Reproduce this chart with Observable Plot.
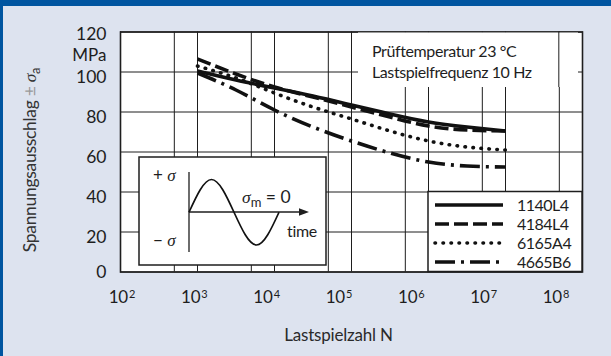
<!DOCTYPE html>
<html><head><meta charset="utf-8">
<script src="https://cdn.jsdelivr.net/npm/d3@7"></script>
<script src="https://cdn.jsdelivr.net/npm/@observablehq/plot@0.6"></script>
<style>
html,body{margin:0;padding:0;background:#dde3ef;}
body{width:611px;height:356px;overflow:hidden;}
#wrap{position:relative;width:611px;height:356px;background:#dde3ef;}
#wrap svg{position:absolute;left:0;top:0;overflow:visible;}
.bar-top{position:absolute;left:0;top:0;width:611px;height:6px;background:#0055a0;z-index:5}
.bar-left{position:absolute;left:0;top:0;width:3px;height:356px;background:#0055a0;z-index:5}
</style></head><body>
<div id="wrap"><div class="bar-top"></div><div class="bar-left"></div></div>
<script>
// ---- data ----
const cycles = [1e3, 3.16e3, 1e4, 3.16e4, 1e5, 3.16e5, 1e6, 3.16e6, 1e7];
const seriesNames = ["1140L4", "4184L4", "6165A4", "4665B6"];
const v1140L4 = [100.5, 96, 92, 88, 83.5, 79, 75, 72.5, 70.5];
const v4184L4 = [106.5, 99, 92.5, 87.5, 82.5, 77.5, 73, 71, 70.5];
const v6165A4 = [103, 97, 89.5, 82.5, 76.5, 70.5, 65.5, 62.5, 61];
const v4665B6 = [99.5, 91, 81, 72.5, 65.5, 59.5, 55, 53, 52.5];
const seriesValues = [v1140L4, v4184L4, v6165A4, v4665B6];
const yTicks = [0, 20, 40, 60, 80, 100, 120];
const xGridTicks = [1e2, 5e2, 1e3, 5e3, 1e4, 5e4, 1e5, 5e5, 1e6, 5e6, 1e7, 5e7, 1e8];
const xLabelExponents = [2, 3, 4, 5, 6, 7, 8];
const infoLines = ["Prüftemperatur 23 °C", "Lastspielfrequenz 10 Hz"];
const xTitle = "Lastspielzahl N";
const yUnit = "MPa";

// ---- styles ----
const FONT = 'Lato,"Liberation Sans",Arial,sans-serif';
const SERIF = '"Liberation Serif","DejaVu Serif",serif';
const INK = "#1e1e1e";
const dashes = {
  "1140L4": {dash: null, cap: "butt"},
  "4184L4": {dash: "14,5", cap: "butt"},
  "6165A4": {dash: "0.5,7.5", cap: "round"},
  "4665B6": {dash: "20,6,3,6", cap: "butt"}
};

const rows = seriesNames.flatMap((s, i) => cycles.map((n, j) => ({series: s, N: n, sigma: seriesValues[i][j]})));

const W = 611, H = 356;
const main = Plot.plot({
  width: W, height: H,
  marginLeft: 120, marginRight: 29, marginTop: 31.5, marginBottom: 84.5,
  style: {background: "transparent", fontFamily: FONT, fontSize: "17px", color: INK, overflow: "visible"},
  x: {type: "log", domain: [1e2, 1e8], axis: null, label: null},
  y: {domain: [0, 120], label: null},
  marks: [
    Plot.frame({fill: "white", stroke: null}),
    Plot.ruleX(xGridTicks, {stroke: INK, strokeWidth: 1}),
    Plot.ruleY(yTicks, {stroke: INK, strokeWidth: 1}),
    ...seriesNames.map(s => Plot.line(rows.filter(r => r.series === s), {
      x: "N", y: "sigma", curve: "natural", stroke: "#111", strokeWidth: 3.6,
      strokeDasharray: dashes[s].dash, strokeLinecap: dashes[s].cap
    })),
    Plot.frame({stroke: INK, strokeWidth: 1.6}),
    Plot.axisY([20, 40, 60, 80, 100], {tickSize: 0, tickPadding: 14, dy: 5.5, fontSize: 17.5, label: null, fill: INK}),
    Plot.axisY([0], {tickSize: 0, tickPadding: 14, dy: 0, fontSize: 17.5, label: null, fill: INK}),
    Plot.axisY([120], {tickSize: 0, tickPadding: 14, dy: 2, fontSize: 17.5, label: null, fill: INK}),
    Plot.text([yUnit], {frameAnchor: "top-left", text: d => d, textAnchor: "end", lineAnchor: "middle", dx: -14, dy: 23.5, fontSize: 17, fill: INK})
  ]
});
document.getElementById("wrap").appendChild(main);

// tick-label row & x title (label row is set slightly narrower than the grid, as in the source)
const labels = Plot.plot({
  width: W, height: H,
  marginLeft: 121, marginRight: 56, marginTop: 31.5, marginBottom: 84.5,
  style: {background: "transparent", fontFamily: FONT, fontSize: "17px", color: INK, overflow: "visible"},
  x: {type: "log", domain: [1e2, 1e8], axis: null},
  y: {domain: [0, 1], axis: null},
  marks: [
    Plot.text(xLabelExponents, {x: e => 10 ** e, frameAnchor: "bottom", text: () => "10", textAnchor: "end", lineAnchor: "top", dx: 6.5, dy: 18.5, fontSize: 17, fill: INK}),
    Plot.text(xLabelExponents, {x: e => 10 ** e, frameAnchor: "bottom", text: e => String(e), textAnchor: "start", lineAnchor: "top", dx: 7.5, dy: 18.5, fontSize: 11, fill: INK}),
    Plot.text([xTitle], {frameAnchor: "bottom", text: d => d, lineAnchor: "middle", dy: 63.5, fontSize: 17, fill: "#2a2a2a"})
  ]
});
d3.select(labels).selectAll("text").style("letter-spacing", "-0.2px");
document.getElementById("wrap").appendChild(labels);

// ---- annotations drawn into the main svg ----
const svg = d3.select(main);
const xs = main.scale("x"), ys = main.scale("y");

// info box
const info = svg.append("g").attr("text-anchor", "start");
info.append("rect").attr("x", 358).attr("y", 32.5).attr("width", 220).attr("height", 54.5).attr("fill", "white");
info.append("line").attr("x1", xs.apply(5e7)).attr("x2", xs.apply(5e7)).attr("y1", 31.5).attr("y2", 87).attr("stroke", INK);
info.selectAll("text").data(infoLines).join("text")
  .attr("x", 372).attr("y", (d, i) => 57 + i * 21).attr("text-anchor", "start")
  .attr("font-family", FONT).attr("font-size", 16).attr("letter-spacing", "-0.4px").attr("fill", INK).text(d => d);

// legend
const lx0 = xs.apply(1e6), lx1 = xs.apply(1e8), ly0 = ys.apply(40), ly1 = ys.apply(0);
const leg = svg.append("g").attr("text-anchor", "start");
leg.append("rect").attr("x", lx0).attr("y", ly0).attr("width", lx1 - lx0).attr("height", ly1 - ly0)
  .attr("fill", "white").attr("stroke", INK).attr("stroke-width", 1.5);
seriesNames.forEach((s, i) => {
  const yy = ly0 + 13.5 + i * 19;
  leg.append("line").attr("x1", lx0 + 7).attr("x2", lx0 + 75).attr("y1", yy).attr("y2", yy)
    .attr("stroke", "#111").attr("stroke-width", 3.6)
    .attr("stroke-dasharray", dashes[s].dash).attr("stroke-linecap", dashes[s].cap);
  leg.append("text").attr("x", lx0 + 89).attr("y", yy).attr("dy", "0.35em").attr("text-anchor", "start")
    .attr("font-family", FONT).attr("font-size", 16).attr("letter-spacing", "-0.5px").attr("fill", INK).text(s);
});

// inset sketch (stress vs. time)
const ins = svg.append("g").attr("text-anchor", "start");
ins.append("rect").attr("x", 139).attr("y", 157).attr("width", 187).attr("height", 108)
  .attr("fill", "white").attr("stroke", INK).attr("stroke-width", 1.5);
ins.append("line").attr("x1", 189).attr("x2", 189).attr("y1", 172).attr("y2", 252).attr("stroke", INK).attr("stroke-width", 1.3);
ins.append("line").attr("x1", 189).attr("x2", 302).attr("y1", 212).attr("y2", 212).attr("stroke", INK).attr("stroke-width", 1.3);
ins.append("path").attr("d", "M309,212L299,208.3L299,215.7Z").attr("fill", INK);
const wave = [[0, 0], [0.25, 1], [0.5, 0], [0.75, -1], [1, 0]];
const wx = d3.scaleLinear([0, 1], [189, 279]), wy = d3.scaleLinear([-1, 1], [245, 179.5]);
ins.append("path").attr("d", d3.line(d => wx(d[0]), d => wy(d[1])).curve(d3.curveNatural)(wave))
  .attr("fill", "none").attr("stroke", "#111").attr("stroke-width", 1.7);
function sigmaLabel(x, y, sign) {
  const t = ins.append("text").attr("x", x).attr("y", y).attr("text-anchor", "start").attr("font-size", 17).attr("fill", INK);
  t.append("tspan").attr("font-family", FONT).text(sign + " ");
  t.append("tspan").attr("font-family", SERIF).attr("font-style", "italic").text("σ");
}
sigmaLabel(153, 181, "+");
sigmaLabel(153, 246, "−");
const sm = ins.append("text").attr("x", 242).attr("y", 203).attr("text-anchor", "start").attr("font-size", 17.5).attr("fill", INK);
sm.append("tspan").attr("font-family", SERIF).attr("font-style", "italic").text("σ");
sm.append("tspan").attr("font-family", FONT).attr("font-size", 13).attr("dy", 4).text("m");
sm.append("tspan").attr("font-family", FONT).attr("dy", -4).text(" = 0");
ins.append("text").attr("x", 287).attr("y", 236.5).attr("text-anchor", "start").attr("font-family", FONT)
  .attr("font-size", 16).attr("letter-spacing", "-0.3px").attr("fill", INK).text("time");

// y title
const yt = svg.append("text").attr("transform", "translate(30,160) rotate(-90)")
  .attr("text-anchor", "middle").attr("dy", "0.35em").attr("font-size", 17.5).attr("letter-spacing", "-0.3px").attr("font-family", FONT);
yt.append("tspan").attr("fill", "#333").text("Spannungsausschlag ");
yt.append("tspan").attr("fill", "#9a9a9a").text("± ");
yt.append("tspan").attr("fill", "#333").attr("font-family", SERIF).attr("font-style", "italic").text("σ");
yt.append("tspan").attr("fill", "#333").attr("font-size", 13).attr("dy", 4).text("a");
</script>
</body></html>
